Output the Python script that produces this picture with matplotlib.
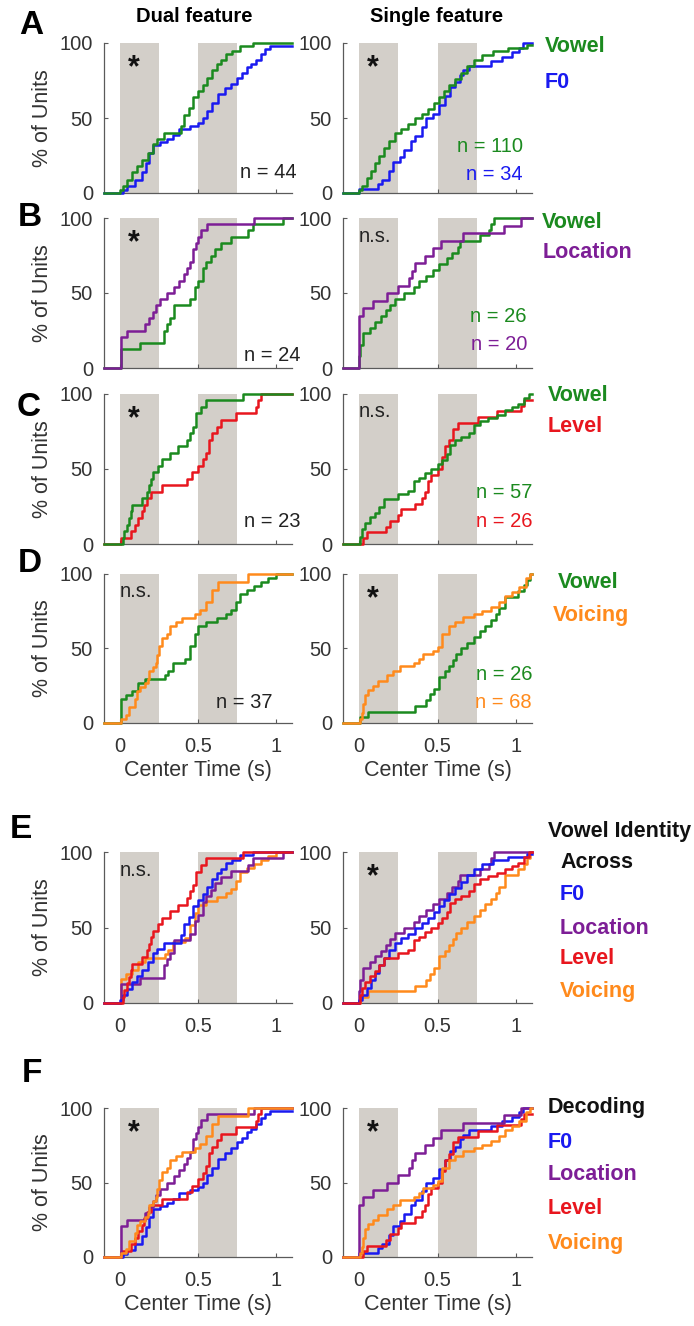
import matplotlib
matplotlib.use("Agg")
import matplotlib.pyplot as plt

plt.rcParams['font.family'] = ['Liberation Sans', 'DejaVu Sans']

# ---------------- data (time in s, cumulative % of units) ----------------
# Dual feature
dual_vowel_f0_t = [0.00,0.02,0.05,0.08,0.11,0.14,0.18,0.21,0.24,0.28,0.39,0.41,0.44,0.47,0.50,0.53,0.56,0.59,0.62,0.65,0.68,0.72,0.77,0.85]
dual_vowel_f0_p = [2,5,9,14,18,22,27,33,36,40,45,52,57,64,68,72,77,82,86,89,93,95,98,100]
dual_f0_t = [0.02,0.05,0.10,0.14,0.17,0.19,0.21,0.26,0.30,0.34,0.38,0.45,0.50,0.53,0.56,0.59,0.63,0.67,0.71,0.75,0.78,0.81,0.84,0.87,0.90,0.93,0.96]
dual_f0_p = [2,5,9,14,20,27,32,34,36,39,43,45,47,50,55,60,66,70,73,77,80,84,86,89,93,96,98]

dual_vowel_loc_t = [0.01,0.13,0.28,0.30,0.32,0.35,0.45,0.48,0.50,0.53,0.55,0.58,0.61,0.65,0.71,0.82,0.85,1.04]
dual_vowel_loc_p = [12.5,16.7,25,29.2,33.3,41.7,45.8,54.2,58.3,66.7,70.8,75,79.2,83.3,87.5,91.7,95.8,100]
dual_loc_t = [0.01,0.05,0.16,0.19,0.21,0.23,0.26,0.30,0.35,0.38,0.41,0.43,0.45,0.47,0.49,0.50,0.52,0.56,0.86]
dual_loc_p = [20.8,25,29.2,33.3,37.5,41.7,45.8,50,54.2,58.3,62.5,66.7,70.8,79.2,83.3,87.5,91.7,95.8,100]

dual_vowel_lev_t = [0.02,0.03,0.05,0.06,0.07,0.08,0.14,0.175,0.19,0.20,0.21,0.245,0.27,0.32,0.37,0.43,0.45,0.47,0.485,0.52,0.55,0.79]
dual_vowel_lev_p = [4.3,8.7,13,17.4,21.7,26.1,30.4,34.8,39.1,43.5,47.8,52.2,56.5,60.9,65.2,69.6,73.9,78.3,87,91.3,95.7,100]
dual_lev_t = [0.01,0.07,0.10,0.12,0.14,0.155,0.175,0.20,0.27,0.43,0.46,0.50,0.53,0.55,0.57,0.59,0.62,0.65,0.74,0.87,0.885,0.90]
dual_lev_p = [4.3,8.7,13,17.4,21.7,26.1,30.4,34.8,39.1,43.5,47.8,52.2,56.5,60.9,69.6,73.9,78.3,82.6,87,91.3,95.7,100]

dual_vowel_voi_t = [0.01,0.04,0.08,0.12,0.16,0.29,0.31,0.34,0.42,0.45,0.48,0.50,0.55,0.62,0.68,0.71,0.74,0.77,0.81,0.86,0.90,0.95,1.0]
dual_vowel_voi_p = [16.2,18.9,21.6,27,29.7,32.4,35.1,40.5,43.2,51.4,59.5,64.9,67.6,70.3,73,75.7,81.1,86.5,89.2,91.9,94.6,97.3,100]
dual_voi_t = [0.01,0.04,0.06,0.10,0.11,0.13,0.16,0.18,0.19,0.21,0.23,0.24,0.25,0.27,0.30,0.32,0.36,0.40,0.48,0.51,0.55,0.59,0.63,0.82]
dual_voi_p = [2.7,5.4,10.8,16.2,21.6,24.3,27,29.7,35.1,37.8,40.5,45.9,51.4,56.8,59.5,64.9,67.6,70.3,73,75.7,81.1,89.2,94.6,100]

# Single feature
single_vowel_f0_t = [0.00,0.02,0.05,0.08,0.10,0.13,0.16,0.19,0.23,0.27,0.31,0.36,0.40,0.44,0.48,0.51,0.54,0.57,0.61,0.65,0.69,0.73,0.78,0.85,0.95,1.07]
single_vowel_f0_p = [2,5,10,15,20,25,30,35,40,43,46,50,53,56,60,64,68,72,76,80,85,89,92,95,97,99]
single_f0_t = [0.00,0.12,0.15,0.19,0.22,0.26,0.29,0.33,0.36,0.40,0.43,0.47,0.51,0.55,0.58,0.61,0.64,0.66,0.70,0.84,0.91,0.97,1.02,1.04]
single_f0_p = [3,6,9,15,21,24,29,35,38,44,50,53,59,65,71,74,79,82,85,88,91,94,97,100]

single_vowel_loc_t = [0.00,0.01,0.03,0.07,0.10,0.14,0.17,0.20,0.23,0.29,0.35,0.38,0.43,0.47,0.51,0.56,0.59,0.63,0.64,0.77,0.83,0.84,0.86]
single_vowel_loc_p = [7.7,15.4,23.1,26.9,30.8,34.6,38.5,42.3,46.2,50,53.8,57.7,61.5,65.4,69.2,73.1,76.9,80.8,84.6,88.5,92.3,96.2,100]
single_loc_t = [0.00,0.03,0.09,0.18,0.25,0.32,0.34,0.36,0.42,0.47,0.52,0.66,0.92,1.03]
single_loc_p = [35,40,45,50,55,60,65,70,75,80,85,90,95,100]

single_vowel_lev_t = [0.01,0.02,0.04,0.07,0.10,0.13,0.16,0.25,0.31,0.35,0.38,0.42,0.46,0.50,0.53,0.56,0.58,0.61,0.65,0.70,0.73,0.77,0.82,0.88,0.93,0.97,1.01,1.05,1.08]
single_vowel_lev_p = [5,10,14,18,21,25,30,33,35,42,44,47,50,53,56,60,66,69,71,74,79,82,84,86,89,91,93,97,100]
single_lev_t = [0.03,0.05,0.17,0.20,0.25,0.27,0.36,0.40,0.42,0.44,0.46,0.50,0.53,0.55,0.57,0.60,0.63,0.76,0.88,1.03,1.05]
single_lev_p = [3.8,7.7,11.5,15.4,19.2,23.1,26.9,30.8,34.6,42.3,46.2,50,57.7,65.4,69.2,76.9,80.8,84.6,88.5,92.3,96.2]

single_vowel_voi_t = [0.01,0.06,0.36,0.43,0.45,0.48,0.51,0.55,0.57,0.60,0.62,0.65,0.69,0.73,0.77,0.80,0.84,0.87,0.89,0.93,1.01,1.05,1.07,1.09]
single_vowel_voi_p = [3.8,7.7,11.5,15.4,19.2,23.1,30.8,34.6,38.5,42.3,46.2,50,53.8,57.7,61.5,65.4,69.2,73.1,76.9,84.6,88.5,92.3,96.2,100]
single_voi_t = [0.01,0.02,0.03,0.04,0.06,0.09,0.125,0.18,0.22,0.26,0.35,0.38,0.41,0.47,0.50,0.53,0.57,0.61,0.66,0.73,0.78,0.84,0.89,0.93,0.97,1.02,1.06,1.09]
single_voi_p = [3,7,13,19,22,25,28,32,35,38,40,43,46,48,51,60,65,68,71,73,75,78,81,85,88,91,97,100]

row_letters = ['A', 'B', 'C', 'D', 'E', 'F']
col_titles = ['Dual feature', 'Single feature']
signif = [['*', '*'], ['*', 'n.s.'], ['*', 'n.s.'], ['n.s.', '*'], ['n.s.', '*'], ['*', '*']]
n_dual = ['n = 44', 'n = 24', 'n = 23', 'n = 37']
n_single = [[('n = 110', 'green'), ('n = 34', 'blue')],
            [('n = 26', 'green'), ('n = 20', 'purple')],
            [('n = 57', 'green'), ('n = 26', 'red')],
            [('n = 26', 'green'), ('n = 68', 'orange')]]
legends = [[('Vowel', 'green'), ('F0', 'blue')],
           [('Vowel', 'green'), ('Location', 'purple')],
           [('Vowel', 'green'), ('Level', 'red')],
           [('Vowel', 'green'), ('Voicing', 'orange')],
           [('Vowel Identity', 'black'), ('Across', 'black'), ('F0', 'blue'), ('Location', 'purple'), ('Level', 'red'), ('Voicing', 'orange')],
           [('Decoding', 'black'), ('F0', 'blue'), ('Location', 'purple'), ('Level', 'red'), ('Voicing', 'orange')]]

COL = {'green': '#1b8a1f', 'blue': '#1a1af0', 'purple': '#7d1e96',
       'red': '#e8161e', 'orange': '#ff8a1c', 'black': '#111111'}

D = {
    'dual': {'vf0': (dual_vowel_f0_t, dual_vowel_f0_p), 'f0': (dual_f0_t, dual_f0_p),
             'vloc': (dual_vowel_loc_t, dual_vowel_loc_p), 'loc': (dual_loc_t, dual_loc_p),
             'vlev': (dual_vowel_lev_t, dual_vowel_lev_p), 'lev': (dual_lev_t, dual_lev_p),
             'vvoi': (dual_vowel_voi_t, dual_vowel_voi_p), 'voi': (dual_voi_t, dual_voi_p)},
    'single': {'vf0': (single_vowel_f0_t, single_vowel_f0_p), 'f0': (single_f0_t, single_f0_p),
               'vloc': (single_vowel_loc_t, single_vowel_loc_p), 'loc': (single_loc_t, single_loc_p),
               'vlev': (single_vowel_lev_t, single_vowel_lev_p), 'lev': (single_lev_t, single_lev_p),
               'vvoi': (single_vowel_voi_t, single_vowel_voi_p), 'voi': (single_voi_t, single_voi_p)},
}

# curves drawn in each row (drawing order), same for both columns
row_curves = [
    [('f0', 'blue'), ('vf0', 'green')],
    [('vloc', 'green'), ('loc', 'purple')],
    [('lev', 'red'), ('vlev', 'green')],
    [('vvoi', 'green'), ('voi', 'orange')],
    [('vvoi', 'orange'), ('vloc', 'purple'), ('vf0', 'blue'), ('vlev', 'red')],
    [('f0', 'blue'), ('lev', 'red'), ('loc', 'purple'), ('voi', 'orange')],
]

# ---------------- layout (pixels) ----------------
W, H = 694, 1326
fig = plt.figure(figsize=(W / 100, H / 100), dpi=100)
rows_px = [(43, 193), (218, 368), (394, 544), (574, 723), (852, 1003), (1108, 1257)]
cols_px = [(104, 292), (343, 532)]
letter_pos = [(31, 26), (30, 217), (29, 407), (30, 563), (21, 829), (32, 1073)]
XMIN, XMAX = -0.1, 1.1
GRAY = '#d3cfc9'
AXC = '#5a5a5a'
TXT = '#333333'


def ftext(x, y, s, **kw):
    return fig.text(x / W, 1 - y / H, s, **kw)


def step_xy(t, p):
    xs = [XMIN] + list(t) + [XMAX]
    ys = [0] + list(p) + [p[-1]]
    return xs, ys


for r, (top, bot) in enumerate(rows_px):
    for c, (left, right) in enumerate(cols_px):
        ax = fig.add_axes([left / W, 1 - bot / H, (right - left) / W, (bot - top) / H])
        ax.axvspan(0, 0.25, color=GRAY, lw=0, zorder=0)
        ax.axvspan(0.5, 0.75, color=GRAY, lw=0, zorder=0)
        key = 'dual' if c == 0 else 'single'
        for name, col in row_curves[r]:
            t, p = D[key][name]
            xs, ys = step_xy(t, p)
            ax.step(xs, ys, where='post', color=COL[col], lw=1.8, clip_on=False, zorder=3)
        ax.set_xlim(XMIN, XMAX)
        ax.set_ylim(0, 100)
        for s in ('top', 'right'):
            ax.spines[s].set_visible(False)
        for s in ('left', 'bottom'):
            ax.spines[s].set_color(AXC)
            ax.spines[s].set_linewidth(0.9)
        ax.set_yticks([0, 50, 100])
        ax.set_xticks([0, 0.5, 1])
        ax.set_xticklabels(['0', '0.5', '1'])
        ax.tick_params(direction='in', length=3, width=0.8, color=AXC,
                       labelsize=14.5, labelcolor=TXT, pad=8)
        ax.tick_params(axis='x', pad=10)
        if r < 3:
            ax.tick_params(axis='x', labelbottom=False)
        if r in (3, 5):
            ax.set_xlabel('Center Time (s)', fontsize=15.5, color=TXT, labelpad=3)
        if c == 0:
            ax.set_ylabel('% of Units', fontsize=15.5, color=TXT, labelpad=5)
        # significance marker
        sg = signif[r][c]
        if sg == '*':
            ax.text(0.09, 83, '*', fontsize=22, fontweight='bold', ha='center', va='center', color='#111111')
        else:
            ax.text(0.0, 88, 'n.s.', fontsize=14.5, ha='left', va='center', color='#222222')

# titles
ftext(194, 17, col_titles[0], fontsize=14.5, fontweight='bold', ha='center', va='center')
ftext(437, 17, col_titles[1], fontsize=14.5, fontweight='bold', ha='center', va='center')

# letters
for L, (x, y) in zip(row_letters, letter_pos):
    ftext(x, y, L, fontsize=24, fontweight='bold', ha='center', va='center')

# n labels
n_dual_pos = [(297, 172), (300, 356), (300, 522), (272, 702)]
for s, (x, y) in zip(n_dual, n_dual_pos):
    ftext(x, y, s, fontsize=14.5, ha='right', va='center', color='#222222')
n_single_pos = [((523, 147), (523, 175)), ((527, 316), (527, 344)),
                ((532, 493), (532, 522)), ((532, 675), (532, 703))]
for labs, poss in zip(n_single, n_single_pos):
    for (s, col), (x, y) in zip(labs, poss):
        ftext(x, y, s, fontsize=14.5, ha='right', va='center', color=COL[col])

# legends
leg_pos = [[(545, 47), (545, 82)],
           [(542, 222), (543, 253)],
           [(548, 395), (548, 427)],
           [(558, 583), (553, 615)],
           [(548, 832), (560, 862), (560, 895), (560, 928), (560, 958), (560, 992)],
           [(548, 1107), (548, 1142), (548, 1175), (548, 1208), (548, 1243)]]
for labs, poss in zip(legends, leg_pos):
    for (s, col), (x, y) in zip(labs, poss):
        ftext(x, y, s, fontsize=15.5, fontweight='bold', ha='left', va='center', color=COL[col])

fig.savefig('out.png', dpi=100)
